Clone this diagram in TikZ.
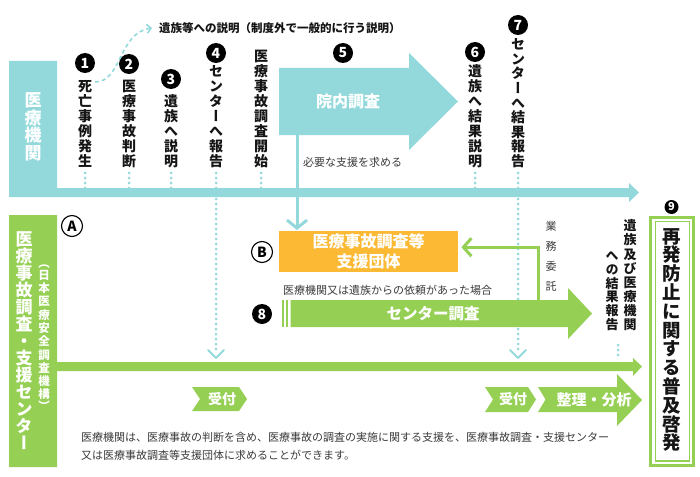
\documentclass[tikz,border=0pt]{standalone}
\usepackage{fontspec}
\setmainfont{Noto Sans CJK JP}
\newfontfamily\vjp[RawFeature=+vert]{Noto Sans CJK JP}
\usetikzlibrary{arrows.meta}
\definecolor{tealc}{HTML}{93D9DC}
\definecolor{greenc}{HTML}{95D055}
\definecolor{orangec}{HTML}{FBB934}
\definecolor{textc}{HTML}{151515}
\definecolor{grayc}{HTML}{3A3A3A}
\newcommand\vfs[2]{\vjp\bfseries\fontsize{#1}{#2}\selectfont}
\tikzset{
  vcol/.style={align=center, inner sep=0pt, anchor=south, text=textc, font=\vfs{14}{15}},
  numc/.style={circle, fill=black, text=white, inner sep=0pt, minimum size=20pt,
    font=\bfseries\fontsize{14}{14}\selectfont},
  letc/.style={circle, draw=black, line width=1.1pt, text=black, inner sep=0pt, minimum size=21pt,
    font=\bfseries\fontsize{14}{14}\selectfont},
  dotline/.style={tealc, line width=3pt, line cap=round, dash pattern=on 0pt off 5pt},
  htext/.style={inner sep=0pt, text=textc, font=\bfseries\fontsize{11.5}{12}\selectfont},
  ntext/.style={inner sep=0pt, text=grayc, font=\fontsize{11}{12}\selectfont},
  wtext/.style={inner sep=0pt, text=white, font=\bfseries\fontsize{16}{20}\selectfont, align=center},
}
\AtBeginDocument{\global\lineskiplimit=-50pt\relax}
\begin{document}
\begin{tikzpicture}[x=1pt,y=-1pt]
\useasboundingbox (0,0) rectangle (700,476);
% ---------- teal band (medical institution) ----------
\fill[tealc] (9,61) -- (57,61) -- (57,188) -- (629,188) -- (629,183) -- (639,192.5)
  -- (629,202) -- (629,197) -- (9,197) -- cycle;
\node[inner sep=0pt, text=white, align=center, font=\vfs{17}{17.5}]
  (iryo) at (33,127) {医\\療\\機\\関};
\coordinate (tbar) at (0,188);
\coordinate (tbarb) at (0,197);
% ---------- green band (center) ----------
\fill[greenc] (9,215) -- (57,215) -- (57,362) -- (633,362) -- (633,358) -- (642,366.5)
  -- (633,376) -- (633,371) -- (57,371) -- (57,467) -- (9,467) -- cycle;
\coordinate (gbar) at (0,362);
\node[inner sep=0pt, text=white, align=center, anchor=north, font=\vfs{17}{17}]
  (center) at (24,231) {医\\療\\事\\故\\調\\査\\・\\支\\援\\セ\\ン\\タ\\ー};
\node[inner sep=0pt, text=white, align=center, anchor=north, font=\vfs{11.5}{13.3}]
  (kiko) at (44,265) {（\\[-2pt]日\\本\\医\\療\\安\\全\\調\\査\\機\\構\\[-2pt]）};
% ---------- step columns ----------
\node[numc] (n1) at (85,63) {1};
\node[numc] (n2) at (129,64) {2};
\node[numc] (n3) at (171,79) {3};
\node[numc] (n4) at (216,53) {4};
\node[numc] (n5) at (343,53) {5};
\node[numc] (n6) at (475,52) {6};
\node[numc] (n7) at (518,25) {7};
\node[vcol] (t1) at (85,168) {死\\亡\\事\\例\\発\\生};
\node[vcol] (t2) at (129,168) {医\\療\\事\\故\\判\\断};
\node[vcol] (t3) at (171,168) {遺\\族\\へ\\説\\明};
\node[vcol] (t4) at (216,168) {セ\\ン\\タ\\ー\\へ\\報\\告};
\node[vcol] (t5) at (261,168) {医\\療\\事\\故\\調\\査\\開\\始};
\node[vcol] (t6) at (475,168) {遺\\族\\へ\\結\\果\\説\\明};
\node[vcol, font=\vfs{14}{14.6}] (t7) at (518,168) {セ\\ン\\タ\\ー\\へ\\結\\果\\報\\告};
\foreach \t in {t1,t2,t3,t5,t6}
  \draw[dotline] ([yshift=-5pt]\t.south) -- (\t.south |- tbar);
\draw[dotline] ([yshift=-5pt]t4.south) -- (t4.south |- tbar);
\draw[dotline] ([yshift=-5pt]t7.south) -- (t7.south |- tbar);
\draw[dotline] ([yshift=-2pt]t4.south |- tbarb) -- ([yshift=9pt]t4.south |- gbar);
\draw[dotline] ([yshift=-2pt]t7.south |- tbarb) -- ([yshift=9pt]t7.south |- gbar);
\coordinate (v4) at (216,358);
\coordinate (v7) at (518,358);
\draw[tealc, line width=2pt, line cap=round, line join=round] (208,350) -- (v4) -- (224,350);
\draw[tealc, line width=2pt, line cap=round, line join=round] (510,350) -- (v7) -- (526,350);
% dashed explanation arrow
\node[htext, anchor=west] (expl) at (159,28) {遺族等への説明（制度外で一般的に行う説明）};
\coordinate (c1s) at (95,82);
\draw[tealc, line width=1.6pt, dash pattern=on 4pt off 3pt, -{Straight Barb[length=4pt,width=9pt,line width=1.6pt]}]
  (c1s) .. controls (122,82) and (118,33) .. ([xshift=-7pt]expl.west);
% ---------- internal investigation arrow ----------
\fill[tealc] (279,68) -- (409,68) -- (409,53) -- (458,101.5) -- (409,150) -- (409,135) -- (279,135) -- cycle;
\node[wtext] (innai) at (348,101.5) {院内調査};
\coordinate (a5b) at (297,134);
\node[ntext, anchor=west] (hitsuyo) at (303,162) {必要な支援を求める};
% ---------- support organization box ----------
\node[fill=orangec, minimum width=179pt, minimum height=41pt, anchor=north west, inner sep=0pt,
  text=white, align=center, font=\bfseries\fontsize{16}{20}\selectfont] (bbox) at (279,231) {医療事故調査等\\支援団体};
\draw[tealc, line width=3pt, -{Straight Barb[length=8pt,width=20pt,line width=3pt]}]
  (a5b) -- ([yshift=1pt]a5b |- bbox.north);
\node[letc] (la) at (72,226) {A};
\node[letc] (lb) at (262,252) {B};
% ---------- center investigation arrow ----------
\node[ntext, anchor=west] (irai) at (283,290) {医療機関又は遺族からの依頼があった場合};
\node[numc] (n8) at (262,314) {8};
\fill[greenc] (281.5,300) rectangle (283.5,327);
\fill[greenc] (285.5,300) rectangle (288,327);
\fill[greenc] (290.5,300) -- (568,300) -- (568,288) -- (592,313.5) -- (568,339) -- (568,327) -- (290.5,327) -- cycle;
\node[wtext, font=\bfseries\fontsize{15.5}{18}\selectfont] (cchosa) at (433,313.5) {センター調査};
\coordinate (cst) at (538,300);
\draw[greenc, line width=3pt, -{Straight Barb[length=8pt,width=18pt,line width=3pt]}]
  (cst) |- ([xshift=3pt,yshift=4.5pt]bbox.east);
\node[inner sep=0pt, text=grayc, align=center, anchor=north,
  font=\vjp\fontsize{11}{20}\selectfont] (itaku) at (551,221) {業\\務\\委\\託};
% results report
\node[vcol, font=\vfs{13}{14.1}] (rep1) at (630,331) {遺\\族\\及\\び\\医\\療\\機\\関};
\node[vcol, font=\vfs{13}{13.8}] (rep2) at (612,331) {へ\\の\\結\\果\\報\\告};
\coordinate (rdot) at (618,345);
\draw[dotline] (rdot) -- ([yshift=3pt]rdot |- gbar);
% ---------- recurrence prevention ----------
\node[numc, minimum size=14pt, font=\bfseries\fontsize{11}{11}\selectfont] (n9) at (671.5,207) {9};
\draw[greenc, line width=3pt] (650.5,217.5) rectangle (693.5,465.5);
\draw[greenc, line width=1.5pt] (655.5,221.5) rectangle (689.5,461);
\node[inner sep=0pt, text=textc, align=center, anchor=north, font=\vfs{18.5}{18.8}] (saihatsu) at (672,228)
  {再\\発\\防\\止\\に\\関\\す\\る\\普\\及\\啓\\発};
% ---------- bottom steps ----------
\fill[greenc] (192,387) -- (239,387) -- (247,399) -- (239,411) -- (192,411) -- (200,399) -- cycle;
\node[wtext, font=\bfseries\fontsize{14}{16}\selectfont] (uke1) at (222,399) {受付};
\fill[greenc] (485,387) -- (528,387) -- (536,399.5) -- (528,412) -- (485,412) -- (493,399.5) -- cycle;
\node[wtext, font=\bfseries\fontsize{14}{16}\selectfont] (uke2) at (513,399.5) {受付};
\fill[greenc] (538,387) -- (617,387) -- (617,374) -- (642,400) -- (617,426) -- (617,412)
  -- (538,412) -- (545.5,399.5) -- cycle;
\node[wtext, font=\bfseries\fontsize{15}{16}\selectfont] (seiri) at (594,399.5) {整理・分析};
% ---------- note ----------
\node[ntext, anchor=west] (note1) at (81,437) {医療機関は、医療事故の判断を含め、医療事故の調査の実施に関する支援を、医療事故調査・支援センター};
\node[ntext, anchor=west] (note2) at (81,455) {又は医療事故調査等支援団体に求めることができます。};
\end{tikzpicture}
\end{document}
